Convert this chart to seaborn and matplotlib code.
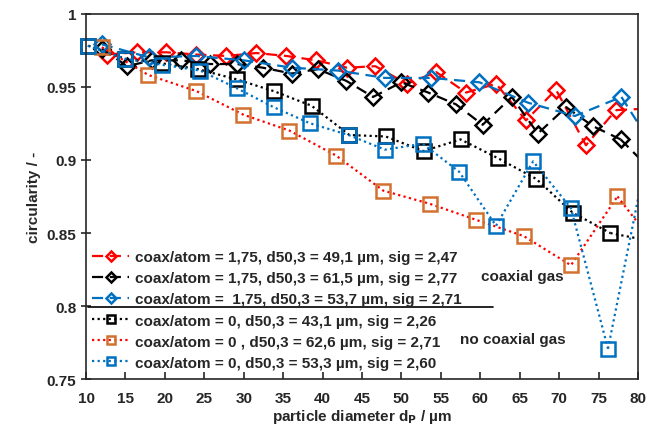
import numpy as np
import pandas as pd
import seaborn as sns
import matplotlib.pyplot as plt

# particle diameter (µm) and circularity per series
x_red_d = [12.6, 16.4, 20.2, 24.0, 27.8, 31.6, 35.4, 39.2, 43.1, 46.7, 50.7,
           54.4, 58.2, 62.0, 65.8, 69.6, 73.4, 77.2, 81.0]
y_red_d = [0.972, 0.9735, 0.9735, 0.972, 0.971, 0.973, 0.971, 0.968, 0.963,
           0.964, 0.952, 0.960, 0.946, 0.952, 0.927, 0.948, 0.910, 0.934, 0.935]

x_blk_d = [12.0, 15.2, 18.3, 22.1, 25.7, 29.1, 32.4, 36.1, 39.4, 43.0, 46.4,
           50.0, 53.4, 56.9, 60.3, 64.0, 67.3, 70.9, 74.3, 77.8, 81.3]
y_blk_d = [0.976, 0.964, 0.968, 0.968, 0.9655, 0.9655, 0.963, 0.959, 0.962,
           0.954, 0.943, 0.953, 0.946, 0.938, 0.924, 0.943, 0.918, 0.936,
           0.923, 0.914, 0.895]

x_blu_d = [12.0, 18.0, 24.0, 30.0, 36.1, 42.0, 47.9, 53.8, 59.9, 66.1, 72.0,
           77.9, 83.8]
y_blu_d = [0.979, 0.970, 0.971, 0.968, 0.963, 0.961, 0.956, 0.956, 0.953,
           0.939, 0.930, 0.943, 0.893]

x_blk_s = [10.3, 15.0, 19.6, 24.2, 29.1, 33.8, 38.6, 43.4, 48.0, 52.8, 57.5,
           62.3, 67.1, 71.7, 76.5, 81.2]
y_blk_s = [0.978, 0.969, 0.966, 0.962, 0.955, 0.947, 0.937, 0.917, 0.916,
           0.906, 0.914, 0.901, 0.887, 0.864, 0.850, 0.845]

x_org_s = [12.0, 17.9, 24.0, 29.9, 35.8, 41.7, 47.7, 53.6, 59.5, 65.5, 71.5,
           77.4, 83.3]
y_org_s = [0.977, 0.958, 0.947, 0.931, 0.920, 0.903, 0.879, 0.870, 0.859,
           0.848, 0.828, 0.875, 0.834]

x_blu_s = [10.2, 15.0, 19.6, 24.5, 29.1, 33.8, 38.4, 43.3, 47.9, 52.7, 57.3,
           62.0, 66.7, 71.5, 76.2, 81.0]
y_blu_s = [0.978, 0.969, 0.965, 0.961, 0.949, 0.936, 0.925, 0.917, 0.907,
           0.911, 0.892, 0.855, 0.899, 0.867, 0.771, 0.900]

labels = ["coax/atom = 1,75, d50,3 = 49,1 µm, sig = 2,47",
          "coax/atom = 1,75, d50,3 = 61,5 µm, sig = 2,77",
          "coax/atom =  1,75, d50,3 = 53,7 µm, sig = 2,71",
          "coax/atom = 0, d50,3 = 43,1 µm, sig = 2,26",
          "coax/atom = 0 , d50,3 = 62,6 µm, sig = 2,71",
          "coax/atom = 0, d50,3 = 53,3 µm, sig = 2,60"]

RED = "#FF0000"
BLUE = "#0070C0"
ORANGE = "#D2702F"

series = [
    (x_red_d, y_red_d, RED, RED, "D", (0, (5, 3))),
    (x_blk_d, y_blk_d, "black", "black", "D", (0, (5, 3))),
    (x_blu_d, y_blu_d, BLUE, BLUE, "D", (0, (5, 3))),
    (x_blk_s, y_blk_s, "black", "black", "s", (0, (1, 1.5))),
    (x_org_s, y_org_s, RED, ORANGE, "s", (0, (1, 1.5))),
    (x_blu_s, y_blu_s, BLUE, BLUE, "s", (0, (1, 1.5))),
]

sns.set_style("ticks")
plt.rcParams['font.family'] = ['Liberation Sans', 'DejaVu Sans']
plt.rcParams['font.weight'] = 'bold'

fig, ax = plt.subplots(figsize=(6.62, 4.27), dpi=100)
fig.subplots_adjust(left=0.130, right=0.9637, top=0.966, bottom=0.109)

for (xs, ys, lc, mc, mk, ls), lab in zip(series, labels):
    ms = 8 if mk == "D" else 9.5
    # in-range part with markers (markers not clipped at the frame)
    sns.lineplot(x=xs[:-1], y=ys[:-1], ax=ax, color=lc, linestyle=ls, lw=1.6,
                 marker=mk, markersize=ms, markerfacecolor="none",
                 markeredgecolor=mc, markeredgewidth=1.8, clip_on=False,
                 label=lab, sort=False)
    # last segment runs beyond the axis and is clipped
    sns.lineplot(x=xs[-2:], y=ys[-2:], ax=ax, color=lc, linestyle=ls, lw=1.6,
                 sort=False, legend=False)

ax.set_xlim(10, 80)
ax.set_ylim(0.75, 1.0)
ax.set_xticks(np.arange(10, 81, 5))
ax.set_yticks([0.75, 0.8, 0.85, 0.9, 0.95, 1.0])
ax.set_yticklabels(["0.75", "0.8", "0.85", "0.9", "0.95", "1"])
ax.tick_params(axis="x", direction="in", length=5, width=1.2, labelsize=11, pad=8)
ax.tick_params(axis="y", direction="inout", length=7, width=1.2, labelsize=11)
for lab in ax.get_xticklabels() + ax.get_yticklabels():
    lab.set_fontweight("bold")
for sp in ax.spines.values():
    sp.set_visible(True)
    sp.set_linewidth(1.2)

ax.set_xlabel("particle diameter d$_\\mathbf{P}$ / µm", fontsize=11,
              fontweight="bold", labelpad=2)
ax.set_ylabel("circularity / -", fontsize=11, fontweight="bold", labelpad=4)

leg = ax.legend(loc="lower left", bbox_to_anchor=(-0.005, 0.002), frameon=False,
                fontsize=11, handlelength=2.4, handletextpad=0.4,
                labelspacing=0.46, borderaxespad=0.2, markerscale=0.6)
for t in leg.get_texts():
    t.set_fontweight("bold")

ax.plot([10.25, 61.6], [0.7993, 0.7993], color="black", lw=1.2)
ax.text(65.3, 0.8207, "coaxial gas", ha="center", va="center",
        fontsize=11, fontweight="bold")
ax.text(64.1, 0.7777, "no coaxial gas", ha="center", va="center",
        fontsize=11, fontweight="bold")

fig.savefig("out.png", dpi=100)
